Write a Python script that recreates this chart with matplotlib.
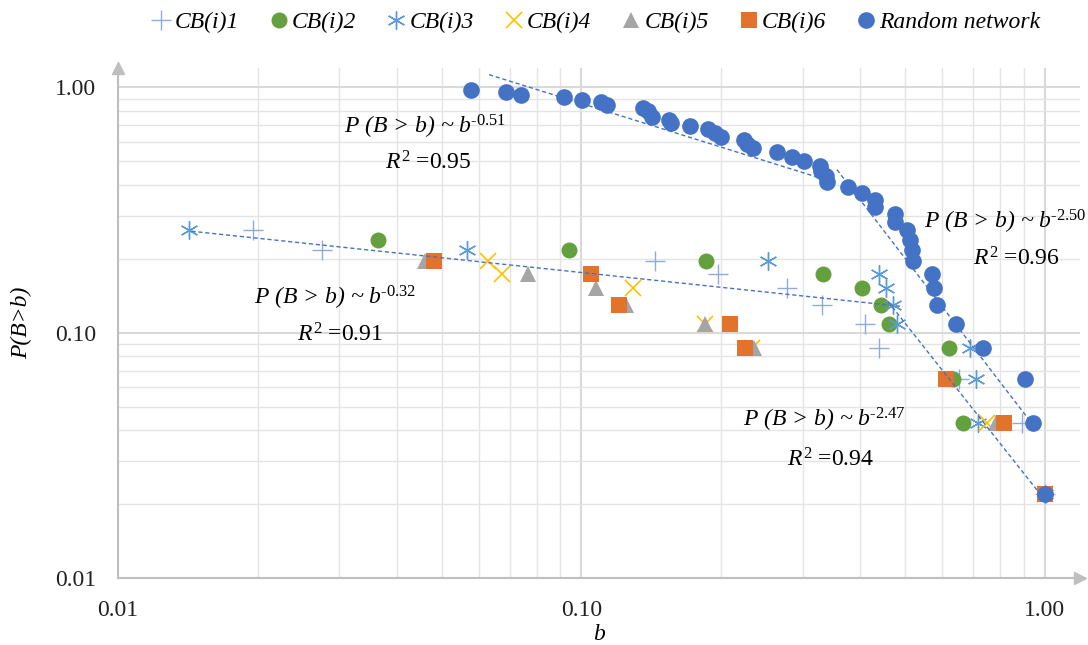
import matplotlib.pyplot as plt
import numpy as np
from matplotlib.ticker import LogLocator, FormatStrFormatter, NullFormatter

plt.rcParams['font.family'] = ['Liberation Serif', 'DejaVu Serif']
plt.rcParams['mathtext.fontset'] = 'custom'
plt.rcParams['mathtext.rm'] = 'Liberation Serif'
plt.rcParams['mathtext.it'] = 'Liberation Serif:italic'

# betweenness b and P(B>b) for each series
cb1_b = [0.0196, 0.0275, 0.144, 0.197, 0.278, 0.330, 0.409, 0.4385, 0.652, 0.892, 1.0]
cb1_p = [0.261, 0.217, 0.196, 0.174, 0.152, 0.130, 0.109, 0.087, 0.065, 0.043, 0.022]

cb2_b = [0.0364, 0.094, 0.186, 0.332, 0.403, 0.443, 0.461, 0.621, 0.633, 0.666, 1.0]
cb2_p = [0.239, 0.217, 0.196, 0.174, 0.152, 0.130, 0.109, 0.087, 0.065, 0.043, 0.022]

cb3_b = [0.0142, 0.0566, 0.253, 0.4385, 0.454, 0.470, 0.479, 0.689, 0.710, 0.717, 1.0]
cb3_p = [0.261, 0.217, 0.196, 0.174, 0.152, 0.130, 0.109, 0.087, 0.065, 0.043, 0.022]

cb4_b = [0.0629, 0.0674, 0.129, 0.185, 0.233, 0.750, 1.0]
cb4_p = [0.196, 0.174, 0.152, 0.109, 0.087, 0.043, 0.022]

cb5_b = [0.046, 0.0767, 0.1075, 0.125, 0.185, 0.236, 0.784, 1.0]
cb5_p = [0.196, 0.174, 0.152, 0.130, 0.109, 0.087, 0.043, 0.022]

cb6_b = [0.048, 0.1048, 0.1205, 0.2092, 0.2253, 0.611, 0.816, 1.0]
cb6_p = [0.196, 0.174, 0.130, 0.109, 0.087, 0.065, 0.043, 0.022]

rand_b = [0.0578, 0.0687, 0.0741, 0.0917, 0.1003, 0.1102, 0.1135, 0.1357, 0.1391, 0.1420,
          0.1545, 0.1560, 0.1714, 0.1875, 0.1941, 0.2000, 0.2242, 0.2276, 0.2344, 0.2642,
          0.2847, 0.3021, 0.3271, 0.3287, 0.3369, 0.3386, 0.3758, 0.4028, 0.4298, 0.4298,
          0.4747, 0.4747, 0.5039, 0.5114, 0.5166, 0.5191, 0.5706, 0.5763, 0.5848, 0.6427,
          0.7348, 0.9053, 0.9421, 1.0]
rand_p = [0.978, 0.957, 0.935, 0.913, 0.891, 0.870, 0.848, 0.826, 0.804, 0.761,
          0.739, 0.717, 0.696, 0.674, 0.652, 0.630, 0.609, 0.587, 0.565, 0.543,
          0.522, 0.500, 0.478, 0.457, 0.435, 0.413, 0.391, 0.370, 0.348, 0.326,
          0.304, 0.283, 0.261, 0.239, 0.217, 0.196, 0.174, 0.152, 0.130, 0.109,
          0.087, 0.065, 0.043, 0.022]

# power-law trend lines as drawn: exponent, prefactor, b range
trend_exp = [-0.59, -2.46, -0.20, -2.39]
trend_coef = [0.221, 0.0364, 0.111, 0.0208]
trend_from = [0.0632, 0.356, 0.0144, 0.4585]
trend_to = [0.322, 0.942, 0.494, 1.0]

# fit labels
fit_exp = ['-0.51', '-2.50', '-0.32', '-2.47']
fit_r2 = ['0.95', '0.96', '0.91', '0.94']
fit_italic = [True, False, True, True]
fit_pos = [(0.0460, 0.687), (0.822, 0.284), (0.0294, 0.139), (0.335, 0.0441)]
r2_pos = [(0.0466, 0.494), (0.870, 0.199), (0.0301, 0.098), (0.344, 0.0303)]

fig = plt.figure(figsize=(10.88, 6.45), dpi=100)
ax = fig.add_axes([0.1085, 0.1039, 0.884, 0.7907])

ax.plot(cb1_b, cb1_p, ls='none', marker='+', ms=15, mew=1.0, color='#8faadc', label='CB(i)1')
ax.plot(cb2_b, cb2_p, ls='none', marker='o', ms=11.5, mew=0, color='#64a03e', label='CB(i)2')
ax.plot(cb3_b, cb3_p, ls='none', marker=(6, 2, 0), ms=13, mew=1.0, color='#5b9bd5', label='CB(i)3')
ax.plot(cb4_b, cb4_p, ls='none', marker='x', ms=11, mew=1.2, color='#ffc000', label='CB(i)4')
ax.plot(cb5_b, cb5_p, ls='none', marker='^', ms=12, mew=0, color='#a5a5a5', label='CB(i)5')
ax.plot(cb6_b, cb6_p, ls='none', marker='s', ms=11.5, mew=0, color='#e2732d', label='CB(i)6')
ax.plot(rand_b, rand_p, ls='none', marker='o', ms=12, mew=0, color='#4472c4', label='Random network')

for e, c, x0, x1 in zip(trend_exp, trend_coef, trend_from, trend_to):
    xs = np.array([x0, x1])
    ax.plot(xs, c * xs ** e, ls=(0, (3, 2)), lw=1.0, color='#4472c4', zorder=3)

for i in range(4):
    exp_txt = fit_exp[i].replace('-', '\u2010')
    if fit_italic[i]:
        sup = r'$^{\mathit{' + exp_txt + '}}$'
    else:
        sup = r'$^{' + exp_txt + '}$'
    ax.text(fit_pos[i][0], fit_pos[i][1], 'P (B > b) ~ b' + sup, style='italic',
            fontsize=17, ha='center', va='center')
    ax.text(r2_pos[i][0], r2_pos[i][1], r'$\mathit{R}^{2}$ =' + fit_r2[i],
            fontsize=17, ha='center', va='center')

ax.set_xscale('log')
ax.set_yscale('log')
ax.set_xlim(0.01, 1.19)
ax.set_ylim(0.01, 1.2)

ax.xaxis.set_major_locator(LogLocator(base=10))
ax.yaxis.set_major_locator(LogLocator(base=10))
ax.xaxis.set_minor_locator(LogLocator(base=10, subs=np.arange(2, 10)))
ax.yaxis.set_minor_locator(LogLocator(base=10, subs=np.arange(2, 10)))
ax.xaxis.set_major_formatter(FormatStrFormatter('%.2f'))
ax.yaxis.set_major_formatter(FormatStrFormatter('%.2f'))
ax.xaxis.set_minor_formatter(NullFormatter())
ax.yaxis.set_minor_formatter(NullFormatter())
ax.tick_params(which='both', length=0, labelsize=17, colors='#222222')
ax.tick_params(axis='x', pad=16)
ax.tick_params(axis='y', pad=16)

ax.grid(which='major', color='#d9d9d9', lw=1.5)
ax.grid(which='minor', color='#e4e4e4', lw=1.0)
ax.set_axisbelow(True)

for s in ['top', 'right']:
    ax.spines[s].set_visible(False)
for s in ['left', 'bottom']:
    ax.spines[s].set_color('#bfbfbf')
    ax.spines[s].set_linewidth(1.5)
ax.plot([1.0], [0], marker='>', ms=9, color='#bfbfbf', transform=ax.transAxes, clip_on=False)
ax.plot([0], [1.0], marker='^', ms=9, color='#bfbfbf', transform=ax.transAxes, clip_on=False)

ax.set_xlabel('b', style='italic', fontsize=17, labelpad=2)
ax.set_ylabel('P(B>b)', style='italic', fontsize=17, labelpad=16)

fig.legend(loc='upper center', bbox_to_anchor=(0.547, 1.015), ncol=7, frameon=False,
           prop={'style': 'italic', 'size': 17}, handletextpad=0.05, columnspacing=1.2,
           handlelength=1.0)

fig.savefig('out.png', dpi=100)
